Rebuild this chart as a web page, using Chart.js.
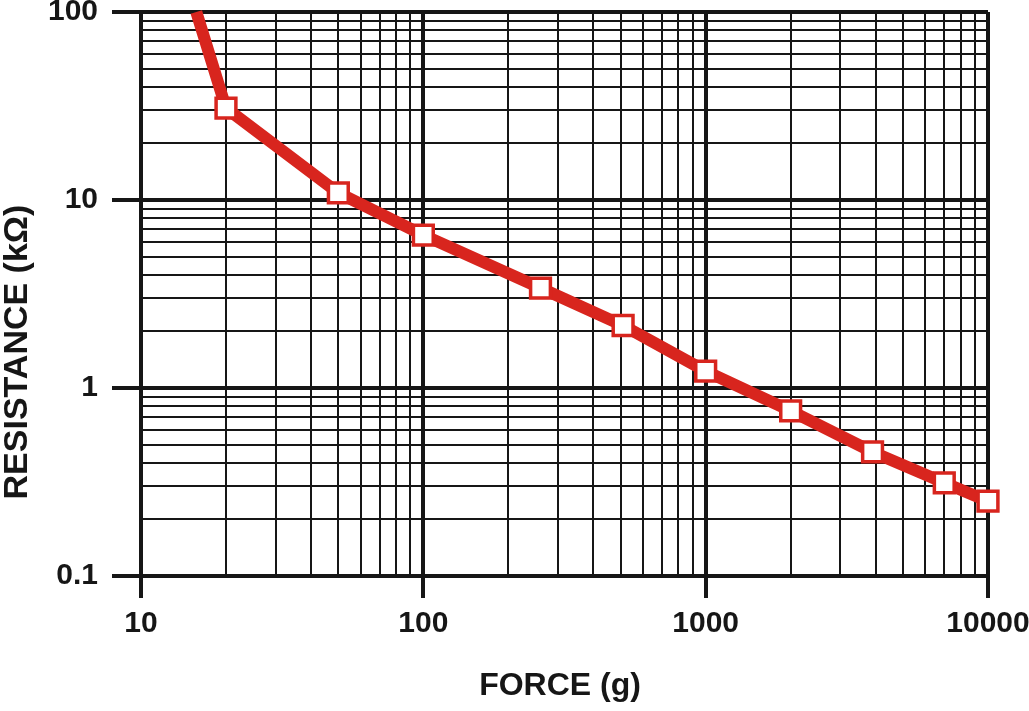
<!DOCTYPE html>
<html>
<head>
<meta charset="utf-8">
<script src="https://cdn.jsdelivr.net/npm/chart.js@4/dist/chart.umd.min.js"></script>
<style>
    body { margin: 0; background: #fff; }
    #wrap { width: 1029px; height: 711px; }
</style>
</head>
<body>
<div id="wrap"><canvas id="graph" width="1029" height="711"></canvas></div>
<script>

// readings
const force = [15.7, 20, 50, 100, 260, 510, 1000, 2000, 3900, 7000, 10000];
const resistance = [100, 30.8, 10.9, 6.5, 3.4, 2.15, 1.23, 0.756, 0.457, 0.313, 0.25];
const markerRadius = [0, 14, 14, 14, 14, 14, 14, 14, 14, 14, 14];

const xTicks = [10, 20, 30, 40, 50, 60, 70, 80, 90,
    100, 200, 300, 400, 500, 600, 700, 800, 900,
    1000, 2000, 3000, 4000, 5000, 6000, 7000, 8000, 9000, 10000];
const yTicks = [0.1, 0.2, 0.3, 0.4, 0.5, 0.6, 0.7, 0.8, 0.9,
    1, 2, 3, 4, 5, 6, 7, 8, 9,
    10, 20, 30, 40, 50, 60, 70, 80, 90, 100];
const xLabels = ["10", "100", "1000", "10000"];
const yLabels = ["0.1", "1", "10", "100"];

const xTitle = "FORCE (g)";
const yTitle = "RESISTANCE (kΩ)";

const red = "#d8251e";
const ink = "#161616";
const font = "'Liberation Sans', Arial, sans-serif";

const isMajor = (v) => Math.abs(Math.log10(v) - Math.round(Math.log10(v))) < 1e-6;

function gridFor(tickLen){
    return {
        color: ink,
        lineWidth: (c) => c.tick && isMajor(c.tick.value) ? 4 : 2,
        tickColor: (c) => c.tick && isMajor(c.tick.value) ? ink : "rgba(0,0,0,0)",
        tickWidth: 4,
        tickLength: tickLen
    }
}

// axis titles drawn by hand so they can sit where the original has them
const titles = {
    id: "titles",
    afterDraw(chart){
        const ctx = chart.ctx;
        ctx.save();
        ctx.fillStyle = ink;
        ctx.font = "bold 32px " + font;
        ctx.textAlign = "center";
        ctx.textBaseline = "alphabetic";
        ctx.fillText(xTitle, 560, 695);

        ctx.translate(27, 352);
        ctx.rotate(-Math.PI / 2);
        ctx.font = "bold 34px " + font;
        ctx.fillText(yTitle, 0, 0);
        ctx.restore();
    }
};

const $graph = document.querySelector("#graph").getContext("2d");

const chart = new Chart($graph, {
    type: "line",
    data: {
        datasets: [{
            data: force.map((f, i) => ({ x: f, y: resistance[i] })),
            borderColor: red,
            borderWidth: 12,
            pointStyle: "rect",
            pointRadius: markerRadius,
            pointBackgroundColor: "#fff",
            pointBorderColor: red,
            pointBorderWidth: 3.5,
            tension: 0,
            clip: false
        }]
    },
    options: {
        responsive: false,
        animation: false,
        events: [],
        layout: { autoPadding: false, padding: { top: 12, right: 41, left: 0, bottom: 0 } },
        plugins: {
            legend: { display: false },
            tooltip: { enabled: false }
        },
        scales: {
            x: {
                type: "logarithmic",
                min: 10,
                max: 10000,
                afterBuildTicks(scale){
                    scale.ticks = xTicks.map(v => ({ value: v }));
                },
                afterFit(scale){
                    scale.height = 135;
                    scale.paddingLeft = 0;
                    scale.paddingRight = 0;
                },
                grid: gridFor(22),
                border: { color: ink, width: 4 },
                ticks: {
                    autoSkip: false,
                    maxRotation: 0,
                    padding: 8,
                    color: ink,
                    font: { family: font, size: 30, weight: "bold" },
                    callback: (v) => xLabels.includes(String(v)) ? String(v) : ""
                }
            },
            y: {
                type: "logarithmic",
                min: 0.1,
                max: 100,
                afterBuildTicks(scale){
                    scale.ticks = yTicks.map(v => ({ value: v }));
                },
                afterFit(scale){
                    scale.width = 141;
                    scale.paddingTop = 0;
                    scale.paddingBottom = 0;
                },
                grid: gridFor(29),
                border: { color: ink, width: 4 },
                ticks: {
                    autoSkip: false,
                    padding: 14,
                    color: ink,
                    font: { family: font, size: 30, weight: "bold" },
                    callback: (v) => yLabels.includes(String(v)) ? String(v) : ""
                }
            }
        }
    },
    plugins: [titles]
});

</script>
</body>
</html>
